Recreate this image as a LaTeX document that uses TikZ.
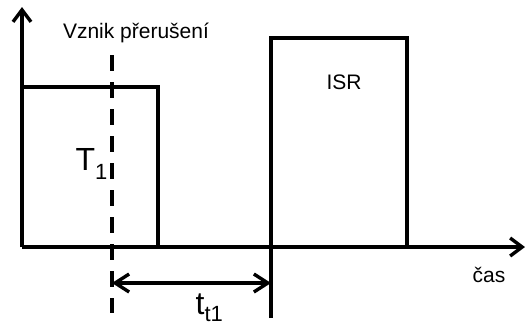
\documentclass[tikz,border=0pt]{standalone}
\usepackage{fontspec}
\setmainfont{Liberation Sans}
\usetikzlibrary{arrows.meta}
\begin{document}
\begin{tikzpicture}[x=1bp,y=-1bp,line width=3.4bp,
  axisarrow/.style={-{Straight Barb[length=12bp,width=18bp,line width=3.4bp]}},
  spanarrow/.style={{Straight Barb[length=14bp,width=18bp,line width=3.4bp]}-{Straight Barb[length=14bp,width=18bp,line width=3.4bp]}},
  dashline/.style={dash pattern=on 16bp off 11bp},
  lbl/.style={inner sep=0pt,anchor=base,font=\fontsize{21bp}{21bp}\selectfont},
  biglbl/.style={inner sep=0pt,anchor=base west,font=\fontsize{32bp}{32bp}\selectfont}]
\useasboundingbox (0,0) rectangle (525,326);
% axes
\coordinate (O) at (22,247);
\coordinate (ytip) at (22,7);
\coordinate (xtip) at (525,247);
\draw[axisarrow] (O) -- (ytip);
\draw[axisarrow] (O) -- (xtip);
% task T1
\coordinate (t1top) at (22,87);
\coordinate (t1end) at (158,87);
\coordinate (t1bot) at (158,247);
\draw (t1top) -- (t1end) -- (t1bot);
% interrupt service routine
\coordinate (isrlow) at (271,318);
\coordinate (isrtl) at (271,38);
\coordinate (isrtr) at (407,38);
\coordinate (isrbr) at (407,247);
\draw (isrlow) -- (isrtl) -- (isrtr) -- (isrbr);
% moment of the interrupt
\coordinate (irqtop) at (112,55);
\coordinate (irqbot) at (112,313);
\draw[dashline] (irqtop) -- (irqbot);
% latency
\coordinate (la) at (112,283);
\coordinate (lb) at (271,283);
\draw[spanarrow] (la) -- (lb);
% labels
\node[lbl] (irq) at (136,38) {Vznik přerušení};
\node[lbl] (isr) at (344,89) {ISR};
\node[lbl] (time) at (489,282) {čas};
\node[biglbl] (task) at (74,170) {T\raisebox{-9bp}{\fontsize{22bp}{22bp}\selectfont 1}};
\node[biglbl] (lat) at (194,314) {t\raisebox{-7bp}{\fontsize{22bp}{22bp}\selectfont t1}};
\end{tikzpicture}
\end{document}
